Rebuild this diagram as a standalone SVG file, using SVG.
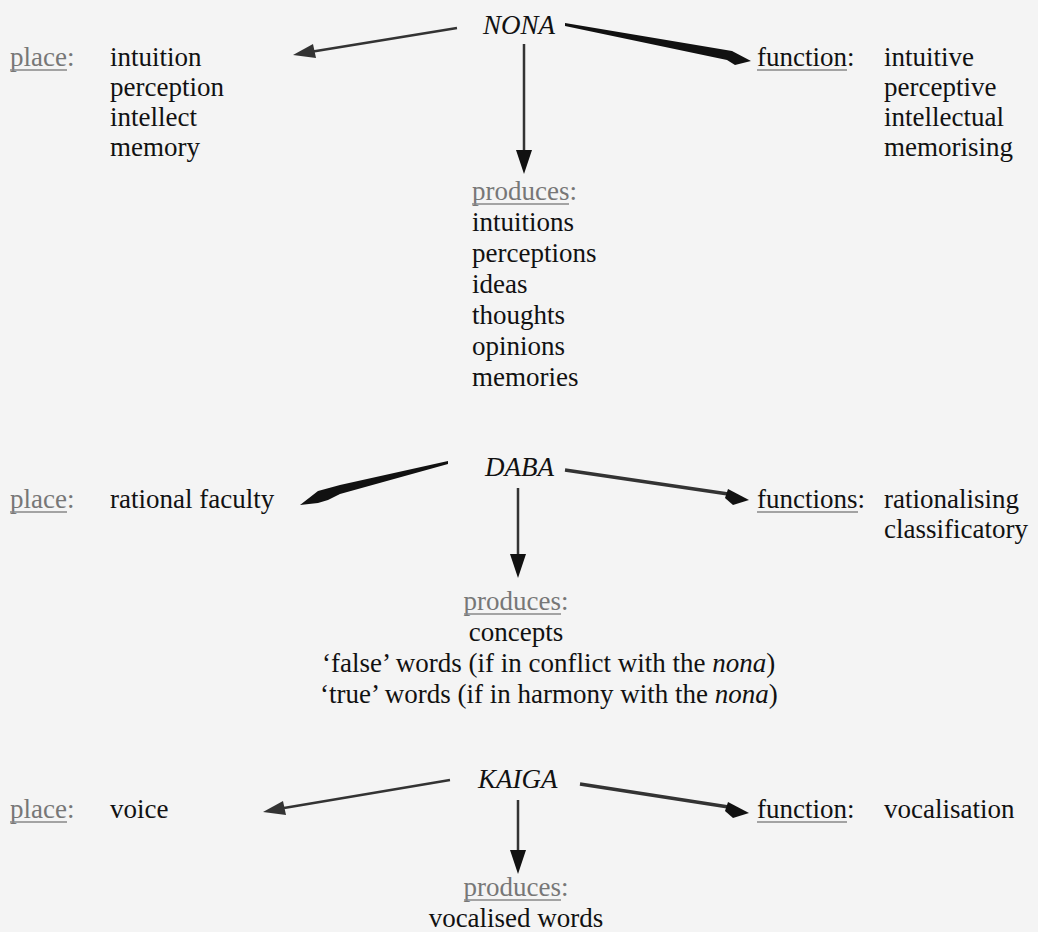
<svg xmlns="http://www.w3.org/2000/svg" width="1038" height="932" viewBox="0 0 1038 932" font-family="'Liberation Serif', 'Times New Roman', Times, serif">
<style>
text{font-family:'Liberation Serif','Times New Roman',Times,serif;font-size:27px;fill:#111}
.it{font-style:italic}
.lab{fill:#777}
.labk{fill:#111}
.ul{stroke:#888;stroke-width:1.4}
.c{text-anchor:middle}
.ln{stroke:#333;fill:none}
.hd{fill:#111}
</style>
<rect width="1038" height="932" fill="#f4f4f4"/>
<g id="connectors">
  <line class="ln" x1="457" y1="28" x2="310" y2="52" stroke-width="2.5"/>
  <polygon points="293,55 313,44 316,58" fill="#333"/>
  <polygon class="hd" points="565,23 732,51 751,61 735,65 727,60 565,26"/>
  <line class="ln" x1="524" y1="44" x2="524" y2="152" stroke-width="2.5"/>
  <polygon class="hd" points="516,150 532,150 524,174"/>
  <polygon class="hd" points="448,461 340,485 318,491 300,505 318,503 328,500 340,494 448,464"/>
  <line class="ln" x1="565" y1="470" x2="735" y2="495" stroke-width="3.5"/>
  <polygon class="hd" points="728,489 749,500 733,505 725,498"/>
  <line class="ln" x1="518" y1="488" x2="518" y2="556" stroke-width="2.5"/>
  <polygon class="hd" points="510,554 526,554 518,578"/>
  <line class="ln" x1="450" y1="780" x2="284" y2="808" stroke-width="2.5"/>
  <polygon points="263,812 283,801 286,815" fill="#333"/>
  <line class="ln" x1="580" y1="784" x2="735" y2="808" stroke-width="3.5"/>
  <polygon class="hd" points="728,802 749,813 733,818 725,811"/>
  <line class="ln" x1="518" y1="800" x2="518" y2="852" stroke-width="2.5"/>
  <polygon class="hd" points="510,850 526,850 518,874"/>
</g>
<g id="nona">
  <text class="it" x="483" y="34">NONA</text>
</g>
<g id="nona-place">
  <text class="lab" x="10" y="66">place:</text>
  <line class="ul" x1="10" y1="70" x2="67" y2="70"/>
  <text x="110" y="66">intuition</text>
  <text x="110" y="96">perception</text>
  <text x="110" y="126">intellect</text>
  <text x="110" y="156">memory</text>
</g>
<g id="nona-function">
  <text class="labk" x="757" y="66">function:</text>
  <line class="ul" x1="757" y1="70" x2="847" y2="70"/>
  <text x="884" y="66">intuitive</text>
  <text x="884" y="96">perceptive</text>
  <text x="884" y="126">intellectual</text>
  <text x="884" y="156">memorising</text>
</g>
<g id="nona-produces">
  <text class="lab" x="472" y="200">produces:</text>
  <line class="ul" x1="472" y1="204" x2="569" y2="204"/>
  <text x="472" y="231">intuitions</text>
  <text x="472" y="262">perceptions</text>
  <text x="472" y="293">ideas</text>
  <text x="472" y="324">thoughts</text>
  <text x="472" y="355">opinions</text>
  <text x="472" y="386">memories</text>
</g>
<g id="daba">
  <text class="it" x="485" y="476">DABA</text>
</g>
<g id="daba-place">
  <text class="lab" x="10" y="508">place:</text>
  <line class="ul" x1="10" y1="512" x2="67" y2="512"/>
  <text x="110" y="508">rational faculty</text>
</g>
<g id="daba-function">
  <text class="labk" x="757" y="508">functions:</text>
  <line class="ul" x1="757" y1="512" x2="858" y2="512"/>
  <text x="884" y="508">rationalising</text>
  <text x="884" y="538">classificatory</text>
</g>
<g id="daba-produces">
  <text class="lab c" x="516" y="610">produces:</text>
  <line class="ul" x1="464" y1="614" x2="561" y2="614"/>
  <text class="c" x="516" y="641">concepts</text>
  <text x="322" y="672">‘false’ words (if in conflict with the <tspan class="it">nona</tspan>)</text>
  <text x="320" y="703">‘true’ words (if in harmony with the <tspan class="it">nona</tspan>)</text>
</g>
<g id="kaiga">
  <text class="it" x="478" y="788">KAIGA</text>
</g>
<g id="kaiga-place">
  <text class="lab" x="10" y="818">place:</text>
  <line class="ul" x1="10" y1="822" x2="67" y2="822"/>
  <text x="110" y="818">voice</text>
</g>
<g id="kaiga-function">
  <text class="labk" x="757" y="818">function:</text>
  <line class="ul" x1="757" y1="822" x2="847" y2="822"/>
  <text x="884" y="818">vocalisation</text>
</g>
<g id="kaiga-produces">
  <text class="lab c" x="516" y="896">produces:</text>
  <line class="ul" x1="464" y1="900" x2="561" y2="900"/>
  <text class="c" x="516" y="927">vocalised words</text>
</g>
</svg>
